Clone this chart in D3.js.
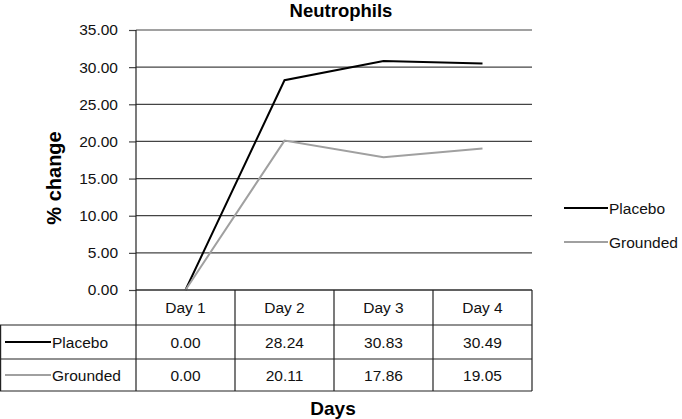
<!DOCTYPE html>
<html><head><meta charset="utf-8">
<script src="https://cdn.jsdelivr.net/npm/d3@7"></script>
<style>body{margin:0;background:#fff}svg{display:block;font-family:"Liberation Sans",Arial,sans-serif}</style>
</head><body><svg id="c" width="682" height="419"></svg>
<script>
const days = ["Day 1","Day 2","Day 3","Day 4"];
const placebo = [0.00, 28.24, 30.83, 30.49];
const grounded = [0.00, 20.11, 17.86, 19.05];
const seriesNames = ["Placebo","Grounded"];
const seriesColors = ["#000000","#a0a0a0"];
const yTicks = [0,5,10,15,20,25,30,35];

const svg = d3.select("#c");
const pL = 136, pR = 532, pT = 30, pB = 290;
const FS = "15.5px";
const x = d3.scaleBand().domain(days).range([pL,pR]);
const y = d3.scaleLinear().domain([0,35]).range([pB,pT]);
const series = [placebo, grounded];

// gridlines
svg.append("g").selectAll("line").data(yTicks).join("line")
  .attr("x1",pL).attr("x2",pR).attr("y1",d=>y(d)).attr("y2",d=>y(d))
  .attr("stroke","#444").attr("stroke-width",1.2);

// y axis
const ya = svg.append("g").attr("transform",`translate(${pL},0)`)
  .call(d3.axisLeft(y).tickValues(yTicks).tickFormat(d3.format(".2f")).tickSize(7).tickPadding(11));
ya.select(".domain").remove();
ya.selectAll("line").attr("stroke","#444").attr("stroke-width",1.2);
ya.selectAll("text").attr("font-size",FS).attr("fill","#111").attr("font-family","Liberation Sans, Arial, sans-serif");
svg.append("line").attr("x1",pL).attr("x2",pL).attr("y1",pT).attr("y2",391).attr("stroke","#222").attr("stroke-width",1.2);

// lines
const line = d3.line().x((d,i)=>x(days[i])+x.bandwidth()/2).y(d=>y(d));
series.forEach((s,k)=>{
  svg.append("path").datum(s).attr("d",line).attr("fill","none")
    .attr("stroke",seriesColors[k]).attr("stroke-width",2);
});

// data table
const rows = [290, 325, 359, 391];
const tb = svg.append("g").attr("stroke","#222").attr("stroke-width",1.2);
x.domain().forEach(d=>{
  tb.append("line").attr("x1",x(d)+x.bandwidth()).attr("x2",x(d)+x.bandwidth()).attr("y1",rows[0]).attr("y2",rows[3]);
});
tb.append("line").attr("x1",0.6).attr("x2",0.6).attr("y1",rows[1]).attr("y2",rows[3]);
tb.append("line").attr("x1",pL).attr("x2",pR).attr("y1",rows[0]).attr("y2",rows[0]);
[1,2,3].forEach(r=>tb.append("line").attr("x1",0).attr("x2",pR).attr("y1",rows[r]).attr("y2",rows[r]));

days.forEach(d=>{
  svg.append("text").attr("x",x(d)+x.bandwidth()/2).attr("y",(rows[0]+rows[1])/2+5.5)
    .attr("text-anchor","middle").attr("font-size",FS).attr("fill","#111").text(d);
});
series.forEach((s,k)=>{
  const cy = (rows[k+1]+rows[k+2])/2+5.5;
  svg.append("line").attr("x1",5).attr("x2",51).attr("y1",cy-5.5).attr("y2",cy-5.5)
    .attr("stroke",seriesColors[k]).attr("stroke-width",2);
  svg.append("text").attr("x",52).attr("y",cy).attr("font-size",FS).attr("fill","#111").text(seriesNames[k]);
  s.forEach((v,i)=>{
    svg.append("text").attr("x",x(days[i])+x.bandwidth()/2).attr("y",cy)
      .attr("text-anchor","middle").attr("font-size",FS).attr("fill","#111").text(d3.format(".2f")(v));
  });
});

// legend
seriesNames.forEach((n,k)=>{
  const ly = 208 + k*34;
  svg.append("line").attr("x1",564).attr("x2",608).attr("y1",ly).attr("y2",ly)
    .attr("stroke",seriesColors[k]).attr("stroke-width",2);
  svg.append("text").attr("x",609).attr("y",ly+5.5).attr("font-size",FS).attr("fill","#111").text(n);
});

// titles
svg.append("text").attr("x",341).attr("y",17).attr("text-anchor","middle")
  .attr("font-size","18.5px").attr("font-weight","bold").text("Neutrophils");
svg.append("text").attr("transform","translate(61,178) rotate(-90)").attr("text-anchor","middle")
  .attr("font-size","20px").attr("font-weight","bold").text("% change");
svg.append("text").attr("x",333).attr("y",415).attr("text-anchor","middle")
  .attr("font-size","19px").attr("font-weight","bold").text("Days");
</script></body></html>
